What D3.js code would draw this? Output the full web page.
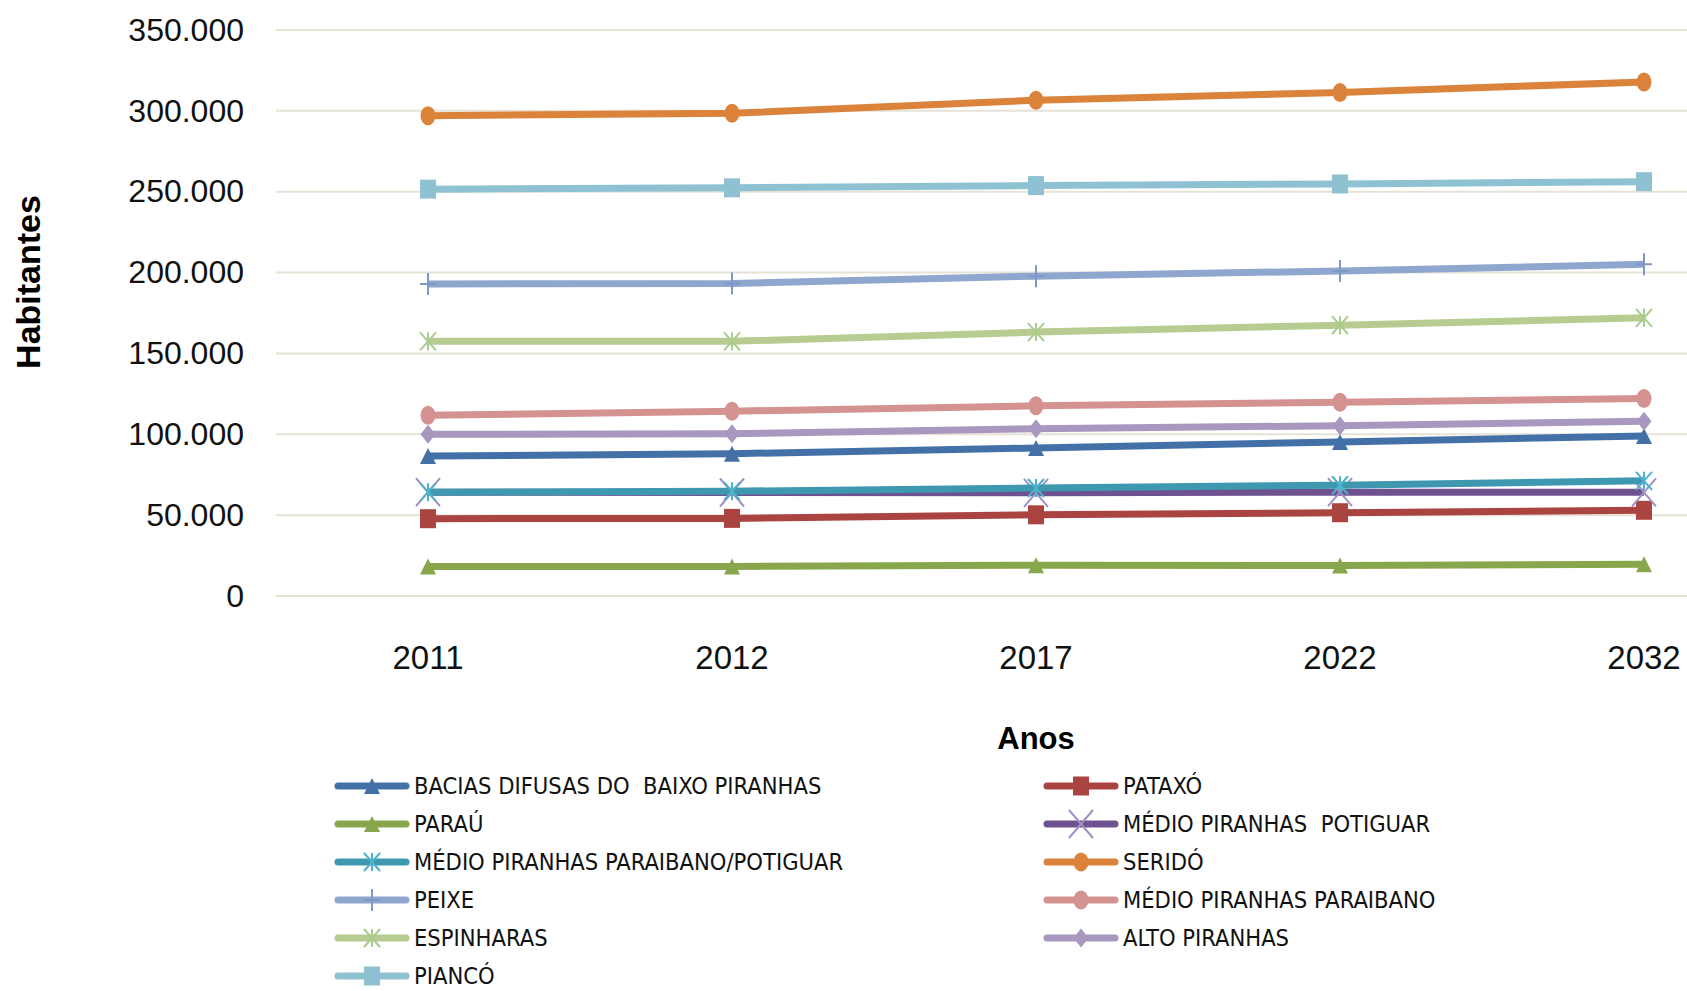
<!DOCTYPE html>
<html>
<head>
<meta charset="utf-8">
<script src="https://cdn.jsdelivr.net/npm/d3@7"></script>
<style>
  body { margin: 0; background: #fff; }
  svg { display: block; }
</style>
</head>
<body>
<svg id="chart" width="1687" height="991"></svg>
<script>
// Data
const years = ["2011", "2012", "2017", "2022", "2032"];
const yTicks = [0, 50000, 100000, 150000, 200000, 250000, 300000, 350000];

const seriesNames = [
  "BACIAS DIFUSAS DO  BAIXO PIRANHAS",
  "PATAXÓ",
  "PARAÚ",
  "MÉDIO PIRANHAS  POTIGUAR",
  "MÉDIO PIRANHAS PARAIBANO/POTIGUAR",
  "SERIDÓ",
  "PEIXE",
  "MÉDIO PIRANHAS PARAIBANO",
  "ESPINHARAS",
  "ALTO PIRANHAS",
  "PIANCÓ"
];

const bacias      = [86500, 88000, 91500, 95300, 98900];
const pataxo      = [47800, 48000, 50200, 51500, 53000];
const parau       = [18200, 18300, 19000, 18900, 19700];
const medioPot    = [64200, 64000, 63800, 64200, 64100];
const medioParPot = [64200, 64800, 66800, 68500, 71200];
const serido      = [297000, 298500, 306600, 311300, 317900];
const peixe       = [193000, 193200, 197800, 201000, 205100];
const medioPar    = [111700, 114300, 117600, 119800, 122100];
const espinharas  = [157500, 157500, 163200, 167500, 172000];
const altoPir     = [100000, 100300, 103500, 105300, 108000];
const pianco      = [251600, 252400, 253800, 254800, 256200];

const seriesValues = [bacias, pataxo, parau, medioPot, medioParPot, serido,
                      peixe, medioPar, espinharas, altoPir, pianco];

// Styles
const colors = ["#4470A8", "#AA4441", "#88A64B", "#6E5290", "#3E98AF", "#DB823B",
                "#8FA7CE", "#D49290", "#B6CC91", "#A898BF", "#8EC2D3"];
const markStroke = {3: "#9F90C6", 4: "#4FB2CC", 6: "#7D97C6", 8: "#A9CC8C"};
const markers = ["triangle", "square", "triangle", "cross", "star", "circle",
                 "plus", "circle", "star", "diamond", "square"];
const markSize = {
  triangle: [16, 16], square: [16, 19], circle: [15, 19], diamond: [15, 19],
  cross: [24, 28], star: [16, 18], plus: [16, 22]
};

function markerPath(kind) {
  const a = markSize[kind][0] / 2, b = markSize[kind][1] / 2;
  switch (kind) {
    case "circle":
      return `M${-a},0A${a},${b} 0 1,0 ${a},0A${a},${b} 0 1,0 ${-a},0Z`;
    case "square":
      return `M${-a},${-b}H${a}V${b}H${-a}Z`;
    case "triangle":
      return `M0,${-b}L${a},${b}L${-a},${b}Z`;
    case "diamond":
      return `M0,${-b}L${a},0L0,${b}L${-a},0Z`;
    case "cross":
      return `M${-a},${-b}L${a},${b}M${a},${-b}L${-a},${b}`;
    case "star":
      return `M${-a},${-b}L${a},${b}M${a},${-b}L${-a},${b}M0,${-b}V${b}`;
    case "plus":
      return `M${-a},0H${a}M0,${-b}V${b}`;
  }
}
const isFilled = (k) => ["circle", "square", "triangle", "diamond"].includes(k);

// Layout
const svg = d3.select("#chart");
const plotLeft = 276, step = 304, plotTop = 30, plotBottom = 596;

const x = d3.scaleBand().domain(years).range([plotLeft, plotLeft + step * years.length]).padding(0);
const y = d3.scaleLinear().domain([0, 350000]).range([plotBottom, plotTop]);

const ptBR = d3.formatLocale({decimal: ",", thousands: ".", grouping: [3], currency: ["R$", ""]});
const fmt = ptBR.format(",");

// gridlines
svg.append("g").selectAll("line").data(yTicks).enter().append("line")
  .attr("x1", plotLeft).attr("x2", 1687)
  .attr("y1", d => y(d)).attr("y2", d => y(d))
  .attr("stroke", "#E6E2D6").attr("stroke-width", 2);

// y axis labels
const yAxis = svg.append("g")
  .attr("transform", `translate(${plotLeft - 32},0)`)
  .call(d3.axisLeft(y).tickValues(yTicks).tickFormat(fmt).tickSize(0).tickPadding(0));
yAxis.select(".domain").remove();
yAxis.selectAll("text")
  .attr("font-family", "'Liberation Sans', Arial, sans-serif")
  .attr("font-size", 32).attr("fill", "#111");

// x axis labels
const xAxis = svg.append("g")
  .attr("transform", `translate(0,${plotBottom + 50})`)
  .call(d3.axisBottom(x).tickSize(0).tickPadding(0));
xAxis.select(".domain").remove();
xAxis.selectAll("text")
  .attr("font-family", "'Liberation Sans', Arial, sans-serif")
  .attr("font-size", 33).attr("fill", "#111");

// axis titles
svg.append("text")
  .attr("transform", "translate(40,282) rotate(-90)")
  .attr("text-anchor", "middle")
  .attr("font-family", "'Liberation Sans', Arial, sans-serif")
  .attr("font-weight", "bold").attr("font-size", 34)
  .text("Habitantes");

svg.append("text")
  .attr("x", x("2017") + step / 2).attr("y", 749)
  .attr("text-anchor", "middle")
  .attr("font-family", "'Liberation Sans', Arial, sans-serif")
  .attr("font-weight", "bold").attr("font-size", 31)
  .text("Anos");

// series
const line = d3.line()
  .x((d, i) => x(years[i]) + step / 2)
  .y(d => y(d));

seriesValues.forEach((vals, s) => {
  const g = svg.append("g");
  g.append("path")
    .attr("d", line(vals))
    .attr("fill", "none")
    .attr("stroke", colors[s])
    .attr("stroke-width", 7)
    .attr("stroke-linejoin", "round");
  const kind = markers[s];
  g.selectAll("path.mk").data(vals).enter().append("path")
    .attr("class", "mk")
    .attr("transform", (d, i) => `translate(${x(years[i]) + step / 2},${y(d)})`)
    .attr("d", markerPath(kind))
    .attr("fill", isFilled(kind) ? colors[s] : "none")
    .attr("stroke", isFilled(kind) ? "none" : (markStroke[s] || colors[s]))
    .attr("stroke-width", 2);
});

// legend (two columns, row-major order)
const legX = [335, 1044], legY0 = 786, legStep = 38;
seriesNames.forEach((name, s) => {
  const col = s % 2, row = Math.floor(s / 2);
  const lg = svg.append("g")
    .attr("transform", `translate(${legX[col]},${legY0 + row * legStep})`);
  lg.append("line")
    .attr("x1", 3).attr("x2", 71).attr("y1", 0).attr("y2", 0)
    .attr("stroke", colors[s]).attr("stroke-width", 7)
    .attr("stroke-linecap", "round");
  const kind = markers[s];
  lg.append("path")
    .attr("transform", "translate(37,0)")
    .attr("d", markerPath(kind))
    .attr("fill", isFilled(kind) ? colors[s] : "none")
    .attr("stroke", isFilled(kind) ? "none" : (markStroke[s] || colors[s]))
    .attr("stroke-width", 2);
  lg.append("text")
    .attr("x", 79).attr("y", 0).attr("dy", "0.36em")
    .attr("font-family", "'Liberation Sans Narrow', 'DejaVu Sans Condensed', sans-serif")
    .attr("font-size", 23.5).attr("fill", "#111")
    .attr("xml:space", "preserve")
    .text(name);
});
</script>
</body>
</html>
